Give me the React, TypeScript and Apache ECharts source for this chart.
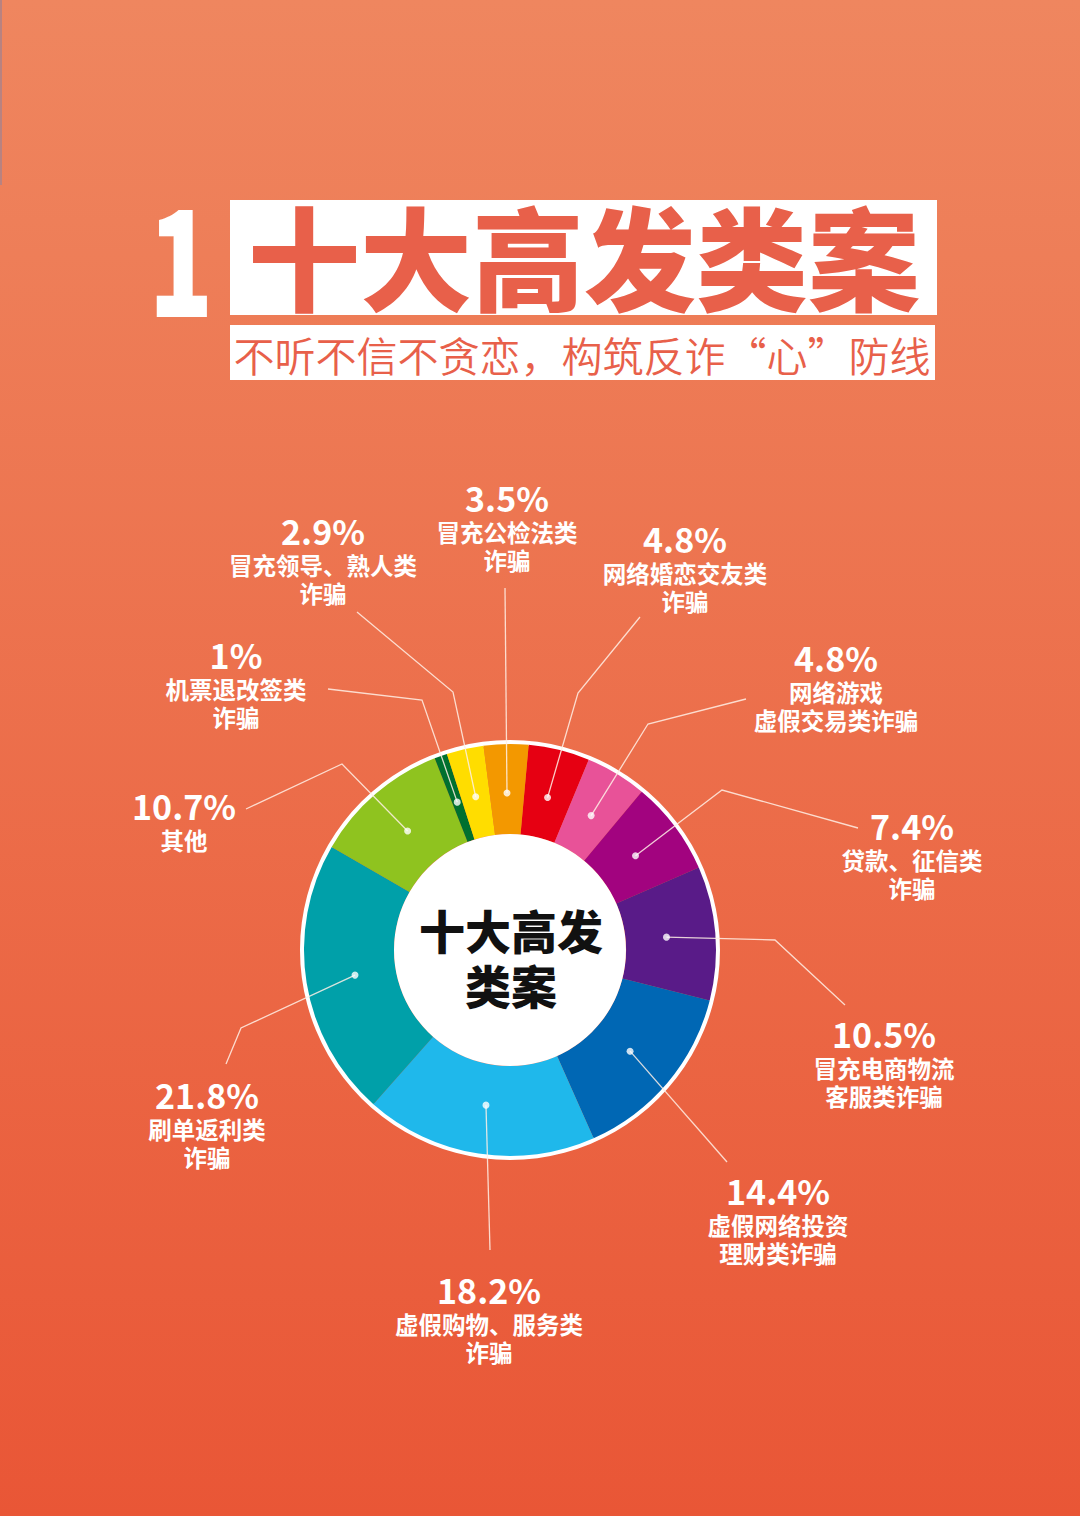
import React, { useEffect, useRef } from 'react';
import * as echarts from 'echarts';

// ---- data (clockwise from the top, starting with the red slice) ----
const categories = [
  '网络婚恋交友类诈骗',
  '网络游戏虚假交易类诈骗',
  '贷款、征信类诈骗',
  '冒充电商物流客服类诈骗',
  '虚假网络投资理财类诈骗',
  '虚假购物、服务类诈骗',
  '刷单返利类诈骗',
  '其他',
  '机票退改签类诈骗',
  '冒充领导、熟人类诈骗',
  '冒充公检法类诈骗',
];
const labelTextLines = [
  ['网络婚恋交友类', '诈骗'],
  ['网络游戏', '虚假交易类诈骗'],
  ['贷款、征信类', '诈骗'],
  ['冒充电商物流', '客服类诈骗'],
  ['虚假网络投资', '理财类诈骗'],
  ['虚假购物、服务类', '诈骗'],
  ['刷单返利类', '诈骗'],
  ['其他'],
  ['机票退改签类', '诈骗'],
  ['冒充领导、熟人类', '诈骗'],
  ['冒充公检法类', '诈骗'],
];
const percentValues = [4.8, 4.8, 7.4, 10.5, 14.4, 18.2, 21.8, 10.7, 1, 2.9, 3.5];
const sliceColors = [
  '#E60012', '#E85298', '#A2037F', '#591B88', '#0067B4', '#1FB8EB',
  '#00A0A9', '#8FC31F', '#00702F', '#FFDD00', '#F39800',
];

// ---- layout (label anchors: centre x / top y, and leader-line bends) ----
const CX = 510;
const CY = 950;
const START_ANGLE = 84.8;
const DOT_R = 157;
const labelAnchors = [
  [685, 517], [836, 636], [912, 804], [884, 1012], [778, 1169], [489, 1268],
  [207, 1073], [184, 784], [236, 633], [323, 509], [507, 476],
];
const lineBends = [
  [[578, 693], [640, 617]],
  [[648, 724], [746, 699]],
  [[722, 790], [858, 828]],
  [[775, 940], [845, 1005]],
  [[727, 1162]],
  [[490, 1250]],
  [[241, 1028], [226, 1064]],
  [[342, 764], [246, 809]],
  [[422, 700], [328, 689]],
  [[453, 692], [357, 612]],
  [[505, 588]],
];

const FONT = '"Noto Sans CJK SC", "Noto Sans", sans-serif';

function midValues(): number[] {
  const mids: number[] = [];
  let cum = 0;
  for (const v of percentValues) {
    mids.push(cum + v / 2);
    cum += v;
  }
  return mids;
}

export default function App() {
  const ref = useRef<HTMLDivElement>(null);

  useEffect(() => {
    if (!ref.current) return;
    const chart = echarts.init(ref.current, undefined, { renderer: 'svg' });
    const mids = midValues();
    const total = percentValues.reduce((a, b) => a + b, 0);

    const dotPoint = (i: number) => {
      const a = ((START_ANGLE - (mids[i] / total) * 360) * Math.PI) / 180;
      return [CX + DOT_R * Math.cos(a), CY - DOT_R * Math.sin(a)];
    };

    const pieData = categories.map((name, i) => ({
      name,
      value: percentValues[i],
      itemStyle: { color: sliceColors[i] },
    }));

    const overlayData = categories.map((name, i) => ({
      name,
      value: percentValues[i],
      itemStyle: { color: 'rgba(0,0,0,0)' },
      label: {
        formatter:
          `{p|${percentValues[i]}%}\n` +
          labelTextLines[i].map((t) => `{n|${t}}`).join('\n'),
      },
    }));

    const option: any = {
      animation: false,
      backgroundColor: new echarts.graphic.LinearGradient(0, 0, 0, 1, [
        { offset: 0, color: '#EF865F' },
        { offset: 1, color: '#E95636' },
      ]),
      polar: { center: [CX, CY], radius: DOT_R },
      angleAxis: {
        type: 'value',
        min: 0,
        max: total,
        startAngle: START_ANGLE,
        clockwise: true,
        show: false,
      },
      radiusAxis: { type: 'value', min: 0, max: 1, show: false },
      graphic: [
        {
          type: 'rect',
          shape: { x: 0, y: 0, width: 2, height: 185 },
          style: { fill: '#B98280' },
          silent: true,
        },
        {
          type: 'rect',
          shape: { x: 230, y: 200, width: 707, height: 115 },
          style: { fill: '#FFFFFF' },
          silent: true,
        },
        {
          type: 'rect',
          shape: { x: 230, y: 325, width: 705, height: 55 },
          style: { fill: '#FFFFFF' },
          silent: true,
        },
        {
          type: 'text',
          x: 181,
          y: 252,
          scaleX: 0.72,
          style: {
            text: '1',
            fill: '#FFFFFF',
            font: `900 148px ${FONT}`,
            lineHeight: 120,
            align: 'center',
            verticalAlign: 'middle',
          },
          silent: true,
        },
        {
          type: 'text',
          x: 584,
          y: 254,
          style: {
            text: '十大高发类案',
            fill: '#E8604A',
            font: `900 112px ${FONT}`,
            lineHeight: 112,
            align: 'center',
            verticalAlign: 'middle',
          },
          silent: true,
        },
        {
          type: 'text',
          x: 582,
          y: 354,
          style: {
            text: '不听不信不贪恋，构筑反诈“心”防线',
            fill: '#E8604A',
            font: `350 41px ${FONT}`,
            lineHeight: 44,
            align: 'center',
            verticalAlign: 'middle',
          },
          silent: true,
        },
        {
          type: 'text',
          x: 511,
          y: 956,
          z: 100,
          style: {
            text: '十大高发\n类案',
            fill: '#111111',
            font: `900 46px ${FONT}`,
            lineHeight: 55,
            align: 'center',
            verticalAlign: 'middle',
          },
          silent: true,
        },
      ],
      series: [
        {
          type: 'pie',
          z: 2,
          center: [CX, CY],
          radius: [205, 210],
          silent: true,
          label: { show: false },
          labelLine: { show: false },
          data: [{ value: 1, itemStyle: { color: '#FFFFFF' } }],
        },
        {
          type: 'pie',
          z: 2,
          center: [CX, CY],
          radius: [116, 206],
          startAngle: START_ANGLE,
          clockwise: true,
          silent: true,
          avoidLabelOverlap: false,
          label: { show: false },
          labelLine: { show: false },
          itemStyle: { borderWidth: 0 },
          data: pieData,
        },
        {
          type: 'pie',
          z: 2,
          center: [CX, CY],
          radius: [0, 116],
          silent: true,
          label: { show: false },
          labelLine: { show: false },
          data: [{ value: 1, itemStyle: { color: '#FFFFFF' } }],
        },
        {
          type: 'pie',
          z: 6,
          center: [CX, CY],
          radius: [0, DOT_R],
          startAngle: START_ANGLE,
          clockwise: true,
          silent: true,
          avoidLabelOverlap: false,
          itemStyle: { borderWidth: 0 },
          label: {
            show: true,
            position: 'outside',
            align: 'center',
            color: '#FFFFFF',
            fontFamily: FONT,
            rich: {
              p: {
                fontSize: 34,
                fontWeight: 'bold',
                color: '#FFFFFF',
                lineHeight: 42,
                align: 'center',
                fontFamily: FONT,
              },
              n: {
                fontSize: 23.5,
                fontWeight: 'bold',
                color: '#FFFFFF',
                lineHeight: 28,
                align: 'center',
                fontFamily: FONT,
              },
            },
          },
          labelLine: {
            show: true,
            smooth: false,
            lineStyle: { color: 'rgba(255,240,230,0.85)', width: 1.3 },
          },
          labelLayout: (params: any) => {
            const i = params.dataIndex;
            return {
              x: labelAnchors[i][0],
              y: labelAnchors[i][1],
              align: 'center',
              verticalAlign: 'top',
              labelLinePoints: [dotPoint(i), ...lineBends[i]],
            };
          },
          data: overlayData,
        },
        {
          type: 'scatter',
          coordinateSystem: 'polar',
          symbol: 'circle',
          symbolSize: 7,
          silent: true,
          itemStyle: { color: '#FFFFFF' },
          data: mids.map((m) => [1, m]),
          z: 10,
        },
      ],
    };

    chart.setOption(option);
    return () => chart.dispose();
  }, []);

  return (
    <div
      ref={ref}
      style={{ position: 'fixed', left: 0, top: 0, width: 1080, height: 1516 }}
    />
  );
}
